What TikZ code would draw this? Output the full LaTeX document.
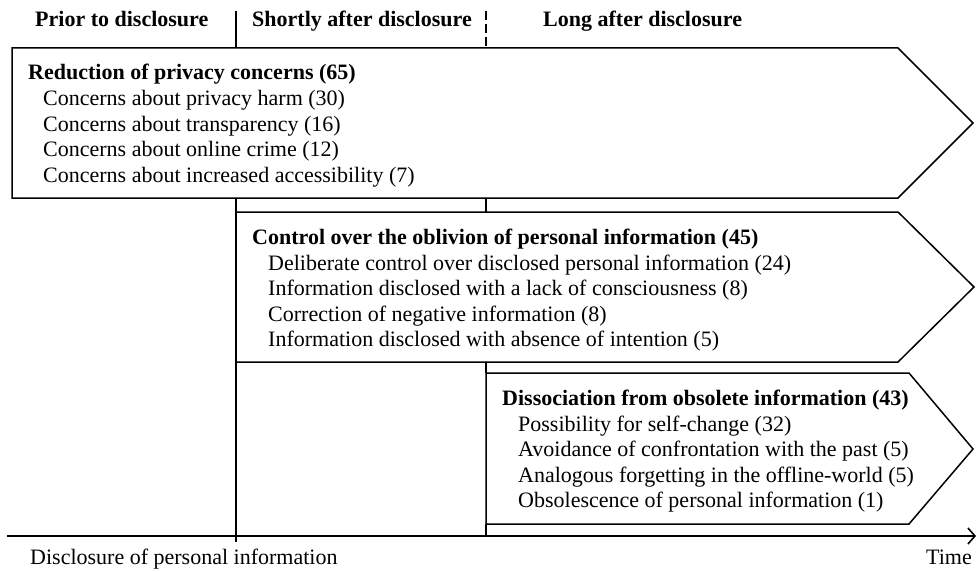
\documentclass[tikz,border=0pt]{standalone}
\usepackage{fontspec}
\setmainfont{Liberation Serif}
\usetikzlibrary{arrows.meta}
\begin{document}
\begin{tikzpicture}[x=1pt,y=-1pt,
  phase/.style={draw=black,line width=1.5pt,fill=white,line join=miter},
  hdr/.style={anchor=base west,inner sep=0pt,font=\fontsize{22}{25.6}\selectfont\bfseries},
  ttl/.style={anchor=base west,inner sep=0pt,font=\fontsize{22}{25.6}\selectfont\bfseries},
  itm/.style={anchor=base west,inner sep=0pt,font=\fontsize{22}{25.6}\selectfont},
  lbl/.style={inner sep=0pt,font=\fontsize{22}{25.6}\selectfont},
  divider/.style={line width=1.1pt},
]
\useasboundingbox (0,0) rectangle (976,572);

% headers
\node[hdr] (hprior) at (35,27) {Prior to disclosure};
\node[hdr] (hshort) at (252,27) {Shortly after disclosure};
\node[hdr] (hlong) at (543,27) {Long after disclosure};

% phase dividers
\coordinate (dTop) at (236,11);
\coordinate (dBot) at (236,542);
\draw[divider] (dTop) -- (dBot);
\coordinate (eTop) at (486,11);
\coordinate (eA) at (486,48);
\draw[divider,dash pattern=on 9pt off 4pt] (eTop) -- (eA);
\draw[divider] (486,198) -- (486,212);
\draw[divider] (486,362) -- (486,373);
\draw[divider] (486,524) -- (486,536);

% time axis
\coordinate (axL) at (7,536);
\coordinate (axR) at (976,536);
\draw[line width=1.6pt,-{Straight Barb[length=7pt,width=16pt]}] (axL) -- (axR);

% phase arrows
\draw[phase] (12,48) -- (898,48) -- (973,123) -- (898,198) -- (12,198) -- cycle;
\draw[phase] (236,212) -- (898,212) -- (974,287) -- (898,362) -- (236,362) -- cycle;
\draw[phase] (486,373) -- (909,373) -- (973,449) -- (909,524) -- (486,524) -- cycle;

% box 1
\node[ttl] (t1) at (28,80) {Reduction of privacy concerns (65)};
\node[itm] (t1a) at (43,106) {Concerns about privacy harm (30)};
\node[itm] (t1b) at (43,131.5) {Concerns about transparency (16)};
\node[itm] (t1c) at (43,157) {Concerns about online crime (12)};
\node[itm] (t1d) at (43,182.5) {Concerns about increased accessibility (7)};

% box 2
\node[ttl] (t2) at (252,244) {Control over the oblivion of personal information (45)};
\node[itm] (t2a) at (268,270) {Deliberate control over disclosed personal information (24)};
\node[itm] (t2b) at (268,295.5) {Information disclosed with a lack of consciousness (8)};
\node[itm] (t2c) at (268,321) {Correction of negative information (8)};
\node[itm] (t2d) at (268,346.5) {Information disclosed with absence of intention (5)};

% box 3
\node[ttl] (t3) at (502,405) {Dissociation from obsolete information (43)};
\node[itm] (t3a) at (518,431) {Possibility for self-change (32)};
\node[itm] (t3b) at (518,456.5) {Avoidance of confrontation with the past (5)};
\node[itm] (t3c) at (518,482) {Analogous forgetting in the offline-world (5)};
\node[itm] (t3d) at (518,507.5) {Obsolescence of personal information (1)};

% axis labels
\node[lbl,anchor=base west] (ldisc) at (30,564) {Disclosure of personal information};
\node[lbl,anchor=base east] (ltime) at (972,564) {Time};
\end{tikzpicture}
\end{document}
